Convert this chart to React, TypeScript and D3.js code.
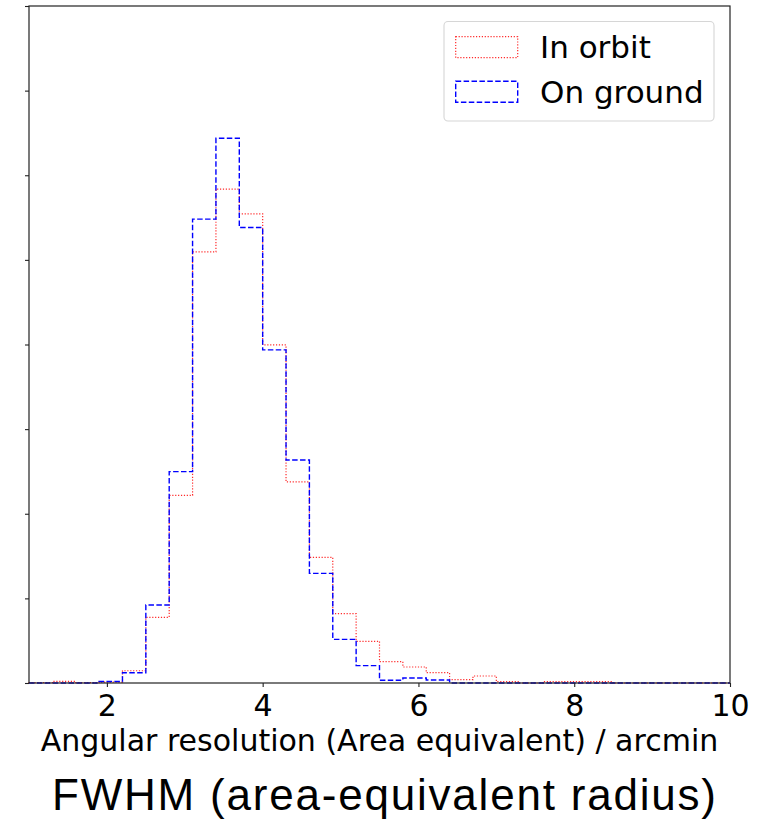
import React, { useEffect, useRef } from "react";
import * as d3 from "d3";

// histogram bins: lower edges, width 0.3 arcmin
const binEdges = [
  1.0, 1.3, 1.6, 1.9, 2.2, 2.5, 2.8, 3.1, 3.4, 3.7, 4.0, 4.3, 4.6, 4.9, 5.2,
  5.5, 5.8, 6.1, 6.4, 6.7, 7.0, 7.3, 7.6, 7.9, 8.2, 8.5, 8.8, 9.1, 9.4, 9.7, 10.0,
];

// counts (in y-tick units)
const inOrbit = [
  0.005, 0.02, 0.005, 0.01, 0.145, 0.776, 2.218, 5.095, 5.835, 5.544, 3.995,
  2.376, 1.484, 0.82, 0.493, 0.252, 0.189, 0.122, 0.039, 0.083, 0.016, 0,
  0.016, 0.016, 0.016, 0, 0, 0, 0, 0,
];
const onGround = [
  0, 0, 0, 0.018, 0.122, 0.922, 2.498, 5.481, 6.438, 5.382, 3.936, 2.636,
  1.296, 0.516, 0.205, 0.032, 0.059, 0.035, 0, 0, 0, 0, 0, 0, 0, 0, 0, 0, 0, 0,
];

const xTicks = [2, 4, 6, 8, 10];
const yTicks = [0, 1, 2, 3, 4, 5, 6, 7, 8];

const series = [
  { name: "In orbit", values: inOrbit, color: "#ff2a2a", dash: "1.2,1.7", width: 1.2 },
  { name: "On ground", values: onGround, color: "#0000ff", dash: "5.5,2.4", width: 1.4 },
];

const App: React.FC = () => {
  const svgRef = useRef<SVGSVGElement | null>(null);

  useEffect(() => {
    const svg = d3.select(svgRef.current);
    svg.selectAll("*").remove();

    const w = 759;
    const h = 828;
    const m = { top: 6, right: 29, bottom: 145, left: 29 };

    svg.attr("width", w).attr("height", h).style("background", "#ffffff");

    const x = d3.scaleLinear().domain([1, 10]).range([m.left, w - m.right]);
    const y = d3.scaleLinear().domain([0, 8]).range([h - m.bottom, m.top]);

    // step outline like matplotlib histtype="step"
    const stepPoints = (vals: number[]) => {
      const pts: [number, number][] = [[binEdges[0], 0]];
      vals.forEach((v, i) => {
        pts.push([binEdges[i], v]);
        pts.push([binEdges[i + 1], v]);
      });
      pts.push([binEdges[binEdges.length - 1], 0]);
      return pts;
    };
    const line = d3
      .line<[number, number]>()
      .x(d => x(d[0]))
      .y(d => y(d[1]));

    series.forEach(s => {
      svg
        .append("path")
        .attr("d", line(stepPoints(s.values)))
        .attr("fill", "none")
        .attr("stroke", s.color)
        .attr("stroke-width", s.width)
        .attr("stroke-dasharray", s.dash);
    });

    // frame
    svg
      .append("rect")
      .attr("x", m.left)
      .attr("y", m.top)
      .attr("width", w - m.left - m.right)
      .attr("height", h - m.top - m.bottom)
      .attr("fill", "none")
      .attr("stroke", "#222")
      .attr("stroke-width", 1.2);

    // x axis
    const gx = svg
      .append("g")
      .attr("transform", `translate(0, ${h - m.bottom})`)
      .call(
        d3
          .axisBottom(x)
          .tickValues(xTicks)
          .tickSize(4)
          .tickSizeOuter(0)
          .tickPadding(8)
          .tickFormat(d3.format("d"))
      );
    gx.select(".domain").remove();
    gx.selectAll("line").attr("stroke", "#222").attr("stroke-width", 1.1);
    gx.selectAll("text")
      .style("font-family", "'DejaVu Sans'")
      .style("font-size", "30px")
      .attr("fill", "#000");

    // y axis: ticks only
    const gy = svg
      .append("g")
      .attr("transform", `translate(${m.left}, 0)`)
      .call(d3.axisLeft(y).tickValues(yTicks).tickSize(4).tickSizeOuter(0).tickFormat(() => ""));
    gy.select(".domain").remove();
    gy.selectAll("line").attr("stroke", "#222").attr("stroke-width", 1.1);

    // x label
    svg
      .append("text")
      .attr("x", (m.left + w - m.right) / 2)
      .attr("y", 751)
      .attr("text-anchor", "middle")
      .style("font-family", "'DejaVu Sans'")
      .style("font-size", "30px")
      .text("Angular resolution (Area equivalent) / arcmin");

    // caption
    svg
      .append("text")
      .attr("x", 52)
      .attr("y", 810)
      .attr("textLength", 664)
      .attr("lengthAdjust", "spacing")
      .style("font-family", "'Liberation Sans', Arial, sans-serif")
      .style("font-size", "44px")
      .text("FWHM (area-equivalent radius)");

    // legend
    const lg = svg.append("g");
    lg.append("rect")
      .attr("x", 444)
      .attr("y", 21.5)
      .attr("width", 270)
      .attr("height", 99.5)
      .attr("rx", 4)
      .attr("fill", "#fff")
      .attr("fill-opacity", 0.8)
      .attr("stroke", "#d6d6d6")
      .attr("stroke-width", 1.1);

    series.forEach((s, i) => {
      const yy = 36.7 + i * 44.5;
      lg.append("rect")
        .attr("x", 455.7)
        .attr("y", yy)
        .attr("width", 62)
        .attr("height", 21)
        .attr("fill", "none")
        .attr("stroke", s.color)
        .attr("stroke-width", s.width)
        .attr("stroke-dasharray", s.dash);
      lg.append("text")
        .attr("x", 540)
        .attr("y", 58.3 + i * 44.2)
        .style("font-family", "'DejaVu Sans'")
        .style("font-size", "31px")
        .text(s.name);
    });
  }, []);

  return (
    <div style={{ position: "absolute", left: 0, top: 0, width: 759, height: 828 }}>
      <svg ref={svgRef}></svg>
    </div>
  );
};

export default App;
